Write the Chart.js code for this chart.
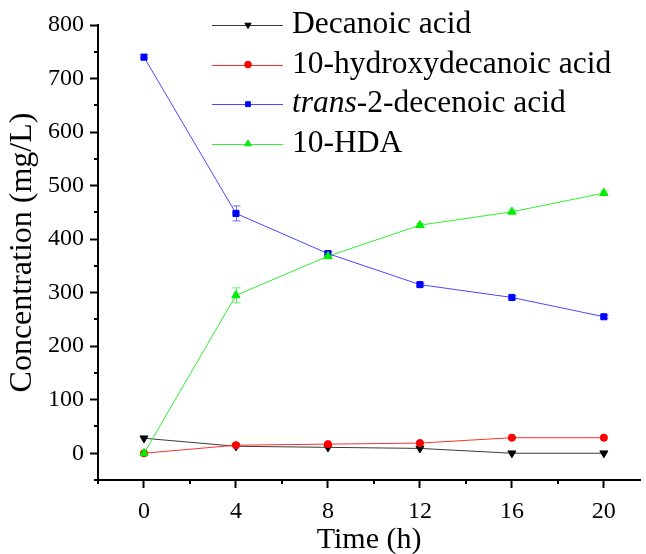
<!DOCTYPE html>
<html>
<head>
<meta charset="utf-8">
<script src="https://cdn.jsdelivr.net/npm/chart.js@4.4.1/dist/chart.umd.min.js"></script>
<style>
  html, body { margin: 0; padding: 0; background: #fff; }
  #wrap { width: 646px; height: 554px; }
</style>
</head>
<body>
<div id="wrap"><canvas id="concChart" width="646" height="554"></canvas></div>
<script>
/* ------------------------------------------
   data: concentration (mg/L) vs time (h)
------------------------------------------ */
const timeH = [0, 4, 8, 12, 16, 20];
const decanoic = [28, 13, 11, 9, 0, 0];
const hydroxyDecanoic = [0, 15, 17, 19, 29, 29];
const transDecenoic = [740, 448, 373, 315, 291, 255];
const hda = [0, 295, 368, 426, 451, 486];

const decanoicErr = [0, 0, 0, 0, 0, 0];
const hydroxyErr = [0, 0, 0, 0, 0, 0];
const transErr = [0, 14, 4, 3, 3, 3];
const hdaErr = [0, 14, 4, 3, 3, 4];

const xTickLabels = ["0", "4", "8", "12", "16", "20"];
const yTickLabels = ["0", "100", "200", "300", "400", "500", "600", "700", "800"];

const FONT = "'Liberation Serif', 'Times New Roman', serif";

function pts(ys){
  return timeH.map((t, i) => ({x: t, y: ys[i]}));
}

/* ------------------------------------------
   series styles
------------------------------------------ */
const series = [
  {label: "Decanoic acid", data: decanoic, err: decanoicErr, color: "#000000", line: "#3a3a3a", bar: "#555555",
   style: "triangle", rot: 180, r: 4.6, lr: 3.6, order: 3},
  {label: "10-hydroxydecanoic acid", data: hydroxyDecanoic, err: hydroxyErr, color: "#ff0000", line: "#ff3030", bar: "#ff6060",
   style: "circle", rot: 0, r: 3.6, lr: 3.4, order: 2},
  {label: "trans-2-decenoic acid", data: transDecenoic, err: transErr, color: "#0000ff", line: "#4848ff", bar: "#6a6aff",
   style: "rect", rot: 0, r: 4.3, lr: 3.4, order: 1},
  {label: "10-HDA", data: hda, err: hdaErr, color: "#00ee00", line: "#30f030", bar: "#60f060",
   style: "triangle", rot: 0, r: 4.8, lr: 3.8, order: 0}
];

/* ------------------------------------------
   error bars (drawn under the markers)
------------------------------------------ */
const errorBars = {
  id: "errorBars",
  beforeDatasetsDraw(chart){
    const c = chart.ctx;
    const xs = chart.scales.x, ys = chart.scales.y;
    c.save();
    c.lineWidth = 1;
    series.forEach(s => {
      c.strokeStyle = s.bar;
      s.data.forEach((v, i) => {
        const e = s.err[i];
        if(!e) return;
        const px = Math.round(xs.getPixelForValue(timeH[i])) + 0.5;
        const top = ys.getPixelForValue(v + e);
        const bot = ys.getPixelForValue(v - e);
        c.beginPath();
        c.moveTo(px, top); c.lineTo(px, bot);
        c.moveTo(px - 4, top); c.lineTo(px + 4, top);
        c.moveTo(px - 4, bot); c.lineTo(px + 4, bot);
        c.stroke();
      });
    });
    c.restore();
  }
};

/* ------------------------------------------
   short minor ticks between labelled ones
------------------------------------------ */
const minorTicks = {
  id: "minorTicks",
  afterDraw(chart){
    const c = chart.ctx;
    const xs = chart.scales.x, ys = chart.scales.y;
    c.save();
    c.strokeStyle = "#000";
    c.lineWidth = 2;
    c.beginPath();
    xs.ticks.forEach(t => {
      if(t.value > xs.max) return;
      if(Math.round(t.value) % 4 === 0 && t.value >= 0) return;
      const px = Math.round(xs.getPixelForValue(t.value));
      c.moveTo(px, xs.top); c.lineTo(px, xs.top + 4);
    });
    ys.ticks.forEach(t => {
      if(Math.round(t.value) % 100 === 0 && t.value >= 0) return;
      const py = Math.round(ys.getPixelForValue(t.value));
      c.moveTo(ys.right, py); c.lineTo(ys.right - 4, py);
    });
    c.stroke();
    c.restore();
  }
};

/* ------------------------------------------
   legend block at the top of the plot
------------------------------------------ */
const seriesLegend = {
  id: "seriesLegend",
  afterDraw(chart){
    const c = chart.ctx;
    const x0 = 212, x1 = 283, mx = 248, tx = 292;
    const f = "31.5px " + FONT;
    c.save();
    series.forEach((s, i) => {
      const y = 25 + i * 39.6;
      c.strokeStyle = s.line;
      c.lineWidth = 1;
      c.beginPath();
      c.moveTo(x0, Math.round(y) + 0.5);
      c.lineTo(x1, Math.round(y) + 0.5);
      c.stroke();
      c.fillStyle = s.color;
      c.strokeStyle = s.color;
      Chart.helpers.drawPoint(c, {
        pointStyle: s.style, rotation: s.rot, radius: s.lr, borderWidth: 1
      }, mx, y);
      c.fillStyle = "#000";
      c.textBaseline = "middle";
      c.textAlign = "left";
      if(s.label.startsWith("trans-")){
        c.font = "italic " + f;
        c.fillText("trans", tx, y);
        const w = c.measureText("trans").width;
        c.font = f;
        c.fillText(s.label.slice(5), tx + w, y);
      } else {
        c.font = f;
        c.fillText(s.label, tx, y);
      }
    });
    c.restore();
  }
};

const ctx = document.getElementById("concChart").getContext("2d");

new Chart(ctx, {
  type: "line",
  data: {
    datasets: series.map(s => ({
      label: s.label,
      data: pts(s.data),
      borderColor: s.line,
      borderWidth: 1,
      backgroundColor: s.color,
      pointBackgroundColor: s.color,
      pointBorderColor: s.color,
      pointBorderWidth: 1,
      pointStyle: s.style,
      pointRotation: s.rot,
      pointRadius: s.r,
      pointHoverRadius: s.r,
      tension: 0,
      fill: false,
      order: s.order
    }))
  },
  options: {
    responsive: false,
    animation: false,
    layout: {padding: {top: 25, right: 0, left: 0, bottom: 0}},
    plugins: {
      legend: {display: false},
      tooltip: {enabled: false}
    },
    scales: {
      x: {
        type: "linear",
        position: "bottom",
        min: -2,
        max: 21.58,
        afterFit: s => { s.height = 74; s.paddingLeft = 0; s.paddingRight = 0; },
        border: {display: true, color: "#000", width: 2},
        grid: {
          drawOnChartArea: false,
          drawTicks: true,
          tickLength: 8,
          tickWidth: 2,
          tickColor: c => xTickLabels.includes(String(Math.round(c.tick.value))) ? "#000" : "rgba(0,0,0,0)"
        },
        ticks: {
          stepSize: 2,
          includeBounds: false,
          autoSkip: false,
          maxRotation: 0,
          padding: 9,
          color: "#000",
          font: {family: FONT, size: 24},
          callback: v => {
            const t = String(Math.round(v));
            return xTickLabels.includes(t) ? t : "";
          }
        },
        title: {
          display: true,
          text: "Time (h)",
          color: "#000",
          font: {family: FONT, size: 30},
          padding: {top: 0, bottom: -4}
        }
      },
      y: {
        type: "linear",
        min: -50,
        max: 800,
        afterFit: s => { s.width = 98; },
        border: {display: true, color: "#000", width: 2},
        grid: {
          drawOnChartArea: false,
          drawTicks: true,
          tickLength: 8,
          tickWidth: 2,
          tickColor: c => yTickLabels.includes(String(Math.round(c.tick.value))) ? "#000" : "rgba(0,0,0,0)"
        },
        ticks: {
          stepSize: 50,
          includeBounds: false,
          autoSkip: false,
          padding: 6,
          color: "#000",
          font: {family: FONT, size: 24},
          callback: v => {
            const t = String(Math.round(v));
            return yTickLabels.includes(t) ? t : "";
          }
        },
        title: {
          display: true,
          text: "Concentration (mg/L)",
          color: "#000",
          font: {family: FONT, size: 32},
          padding: {top: 3, bottom: 0}
        }
      }
    }
  },
  plugins: [errorBars, minorTicks, seriesLegend]
});
</script>
</body>
</html>
